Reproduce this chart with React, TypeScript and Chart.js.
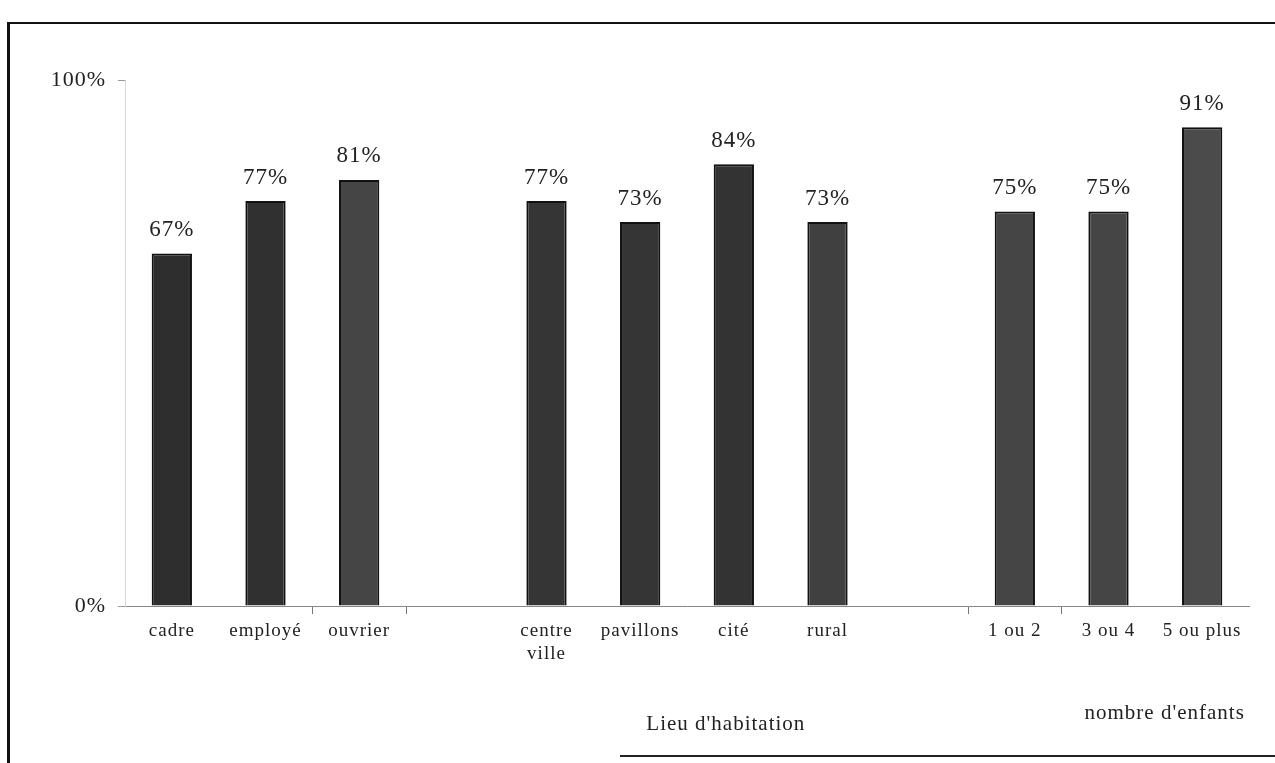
import React, { useEffect, useRef } from "react";
import { Chart, registerables } from "chart.js";

Chart.register(...registerables);

const categories: (string | string[])[] = [
  "cadre", "employé", "ouvrier", "",
  ["centre", "ville"], "pavillons", "cité", "rural", "",
  "1 ou 2", "3 ou 4", "5 ou plus",
];
const values: (number | null)[] = [67, 77, 81, null, 77, 73, 84, 73, null, 75, 75, 91];
const yTickValues = [0, 100];
const groupTitles = ["Lieu d'habitation", "nombre d'enfants"];

const barColors = [
  "#2e2e2e", "#303030", "#454545", "#000000",
  "#353535", "#353535", "#333333", "#404040", "#000000",
  "#454545", "#454545", "#4b4b4b",
];

const FONT = "'Liberation Serif', 'Times New Roman', serif";

const spacingPlugin = {
  id: "letterSpacing",
  beforeLayout(chart: any) {
    chart.ctx.letterSpacing = "1px";
  },
  beforeDraw(chart: any) {
    chart.ctx.letterSpacing = "1px";
  },
};

const labelPlugin = {
  id: "valueLabels",
  afterDatasetsDraw(chart: any) {
    const ctx = chart.ctx;
    const meta = chart.getDatasetMeta(0);
    ctx.save();
    ctx.letterSpacing = "1px";
    ctx.font = `23px ${FONT}`;
    ctx.fillStyle = "#222";
    ctx.textAlign = "center";
    ctx.textBaseline = "bottom";
    meta.data.forEach((bar: any, i: number) => {
      const v = values[i];
      if (v == null) return;
      ctx.fillText(`${v}%`, bar.x, bar.y - 12);
    });
    const xs = chart.scales.x;
    const area = chart.chartArea;
    ctx.font = `21px ${FONT}`;
    ctx.textBaseline = "middle";
    ctx.fillText(groupTitles[0], xs.getPixelForValue(6) - 8, area.bottom + 118);
    ctx.fillText(groupTitles[1], xs.getPixelForValue(10.6), area.bottom + 107);
    ctx.restore();
  },
};

export default function App() {
  const ref = useRef<HTMLCanvasElement | null>(null);
  useEffect(() => {
    if (!ref.current) return;
    const chart = new Chart(ref.current, {
      type: "bar",
      data: {
        labels: categories,
        datasets: [
          {
            data: values,
            backgroundColor: barColors,
            borderColor: "#111",
            borderWidth: 2,
            barPercentage: 0.43,
            categoryPercentage: 1,
          },
        ],
      },
      options: {
        animation: false,
        responsive: false,
        layout: { padding: { top: 80, right: 26, left: 0, bottom: 0 } },
        plugins: { legend: { display: false }, tooltip: { enabled: false } },
        scales: {
          x: {
            offset: true,
            grid: {
              offset: true,
              drawOnChartArea: false,
              tickLength: 8,
              color: (c: any) => ([2, 3, 9, 10].includes(c.index) ? "#777" : "rgba(0,0,0,0)"),
            },
            border: { color: "#888", width: 1 },
            ticks: {
              font: { family: FONT, size: 19 },
              color: "#222",
              padding: 6,
              maxRotation: 0,
              autoSkip: false,
            },
            afterFit: (s: any) => { s.height = 157; },
          },
          y: {
            min: 0,
            max: 100,
            afterBuildTicks: (s: any) => { s.ticks = yTickValues.map((v) => ({ value: v })); },
            grid: { drawOnChartArea: false, tickLength: 7, color: "#999" },
            border: { color: "#d8d8d8", width: 1 },
            ticks: {
              font: { family: FONT, size: 22 },
              color: "#222",
              padding: 12,
              callback: (v: any) => `${v}%`,
            },
            afterFit: (s: any) => { s.width = 125; },
          },
        },
      },
      plugins: [spacingPlugin, labelPlugin],
    });
    return () => chart.destroy();
  }, []);

  return (
    <div style={{ position: "fixed", left: 0, top: 0, width: 1275, height: 763, background: "#fff" }}>
      <canvas ref={ref} width={1275} height={763} style={{ position: "absolute", left: 0, top: 0 }} />
      <div style={{ position: "absolute", left: 7, top: 22, width: 1268, height: 2, background: "#111" }} />
      <div style={{ position: "absolute", left: 7, top: 22, width: 3, height: 741, background: "#111" }} />
      <div style={{ position: "absolute", left: 620, top: 755, width: 655, height: 2, background: "#222" }} />
    </div>
  );
}
